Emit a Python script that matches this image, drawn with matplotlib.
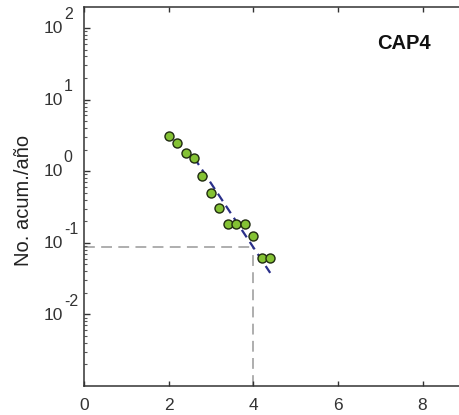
import math
import matplotlib
matplotlib.use("Agg")
import matplotlib.pyplot as plt
from matplotlib.ticker import FixedLocator, LogLocator, NullFormatter
from matplotlib.transforms import offset_copy

plt.rcParams['font.family'] = ['Liberation Sans', 'DejaVu Sans']

# data
magnitudes = [2.0, 2.2, 2.4, 2.6, 2.8, 3.0, 3.2, 3.4, 3.6, 3.8, 4.0, 4.2, 4.4]
cum_rate = [3.1, 2.48, 1.80, 1.55, 0.87, 0.49, 0.31, 0.184, 0.184, 0.184, 0.123, 0.062, 0.062]
fit_x = [2.6, 4.4]
fit_y = [1.55, 0.038]
ref_mag = 4.0
ref_rate = 0.086
x_ticks = [0, 2, 4, 6, 8]
y_ticks = [1e-2, 1e-1, 1e0, 1e1, 1e2]
label_text = "CAP4"
ylabel_text = "No. acum./año"

fig = plt.figure(figsize=(4.6, 4.15), dpi=100)
ax = fig.add_axes([0.1826, 0.0699, 0.92, 0.9144])
ax.set_yscale('log')
ax.set_xlim(0, 10)
ax.set_ylim(1e-3, 10**2.3)

ax.plot([0, ref_mag], [ref_rate, ref_rate], color='#a8a8a8', lw=1.3, ls=(0, (6, 3.5)), zorder=1)
ax.plot([ref_mag, ref_mag], [1e-3, ref_rate], color='#a8a8a8', lw=1.3, ls=(0, (6, 3.5)), zorder=1)
ax.plot(fit_x, fit_y, color='#2a2f8a', lw=1.6, ls=(0, (4, 2.5)), zorder=2)
ax.plot(magnitudes, cum_rate, ls='none', marker='o', ms=6.5, mfc='#84c234',
        mec='#1f2a10', mew=1.0, zorder=3)

ax.text(7.56, 61, label_text, fontsize=14.5, fontweight='bold', ha='center', va='center', color='#111111')

ax.xaxis.set_major_locator(FixedLocator(x_ticks))
ax.yaxis.set_major_locator(FixedLocator(y_ticks))
ax.yaxis.set_minor_locator(LogLocator(base=10, subs=range(2, 10), numticks=20))
ax.yaxis.set_minor_formatter(NullFormatter())
ax.yaxis.set_major_formatter(NullFormatter())

# MATLAB-style "10" with raised exponent
ytrans = ax.get_yaxis_transform()
for v in y_ticks:
    e = int(round(math.log10(v)))
    base_tr = offset_copy(ytrans, fig=fig, x=-15, y=-0.5, units='points')
    ax.text(0, v, "10", transform=base_tr, fontsize=12.5, color='#333333',
            ha='right', va='center', clip_on=False)
    exp_tr = offset_copy(ytrans, fig=fig, x=-14.5, y=9.5, units='points')
    ax.text(0, v, str(e), transform=exp_tr, fontsize=11.5, color='#333333',
            ha='left', va='center', clip_on=False)

ax.tick_params(axis='x', which='both', direction='in', top=True, bottom=True, length=3.5,
               width=1, color='#333333', labelsize=12.5, labelcolor='#333333', pad=9)
ax.tick_params(axis='y', which='major', direction='in', left=True, right=False, length=4,
               width=1, color='#333333')
ax.tick_params(axis='y', which='minor', direction='in', left=True, right=False, length=2,
               width=0.8, color='#555555')

for s in ax.spines.values():
    s.set_color('#333333')
    s.set_linewidth(1.1)

ax.set_ylabel(ylabel_text, fontsize=14.5, color='#222222')
ax.yaxis.set_label_coords(-0.1206, 0.49)

fig.savefig('out.png', dpi=100)
